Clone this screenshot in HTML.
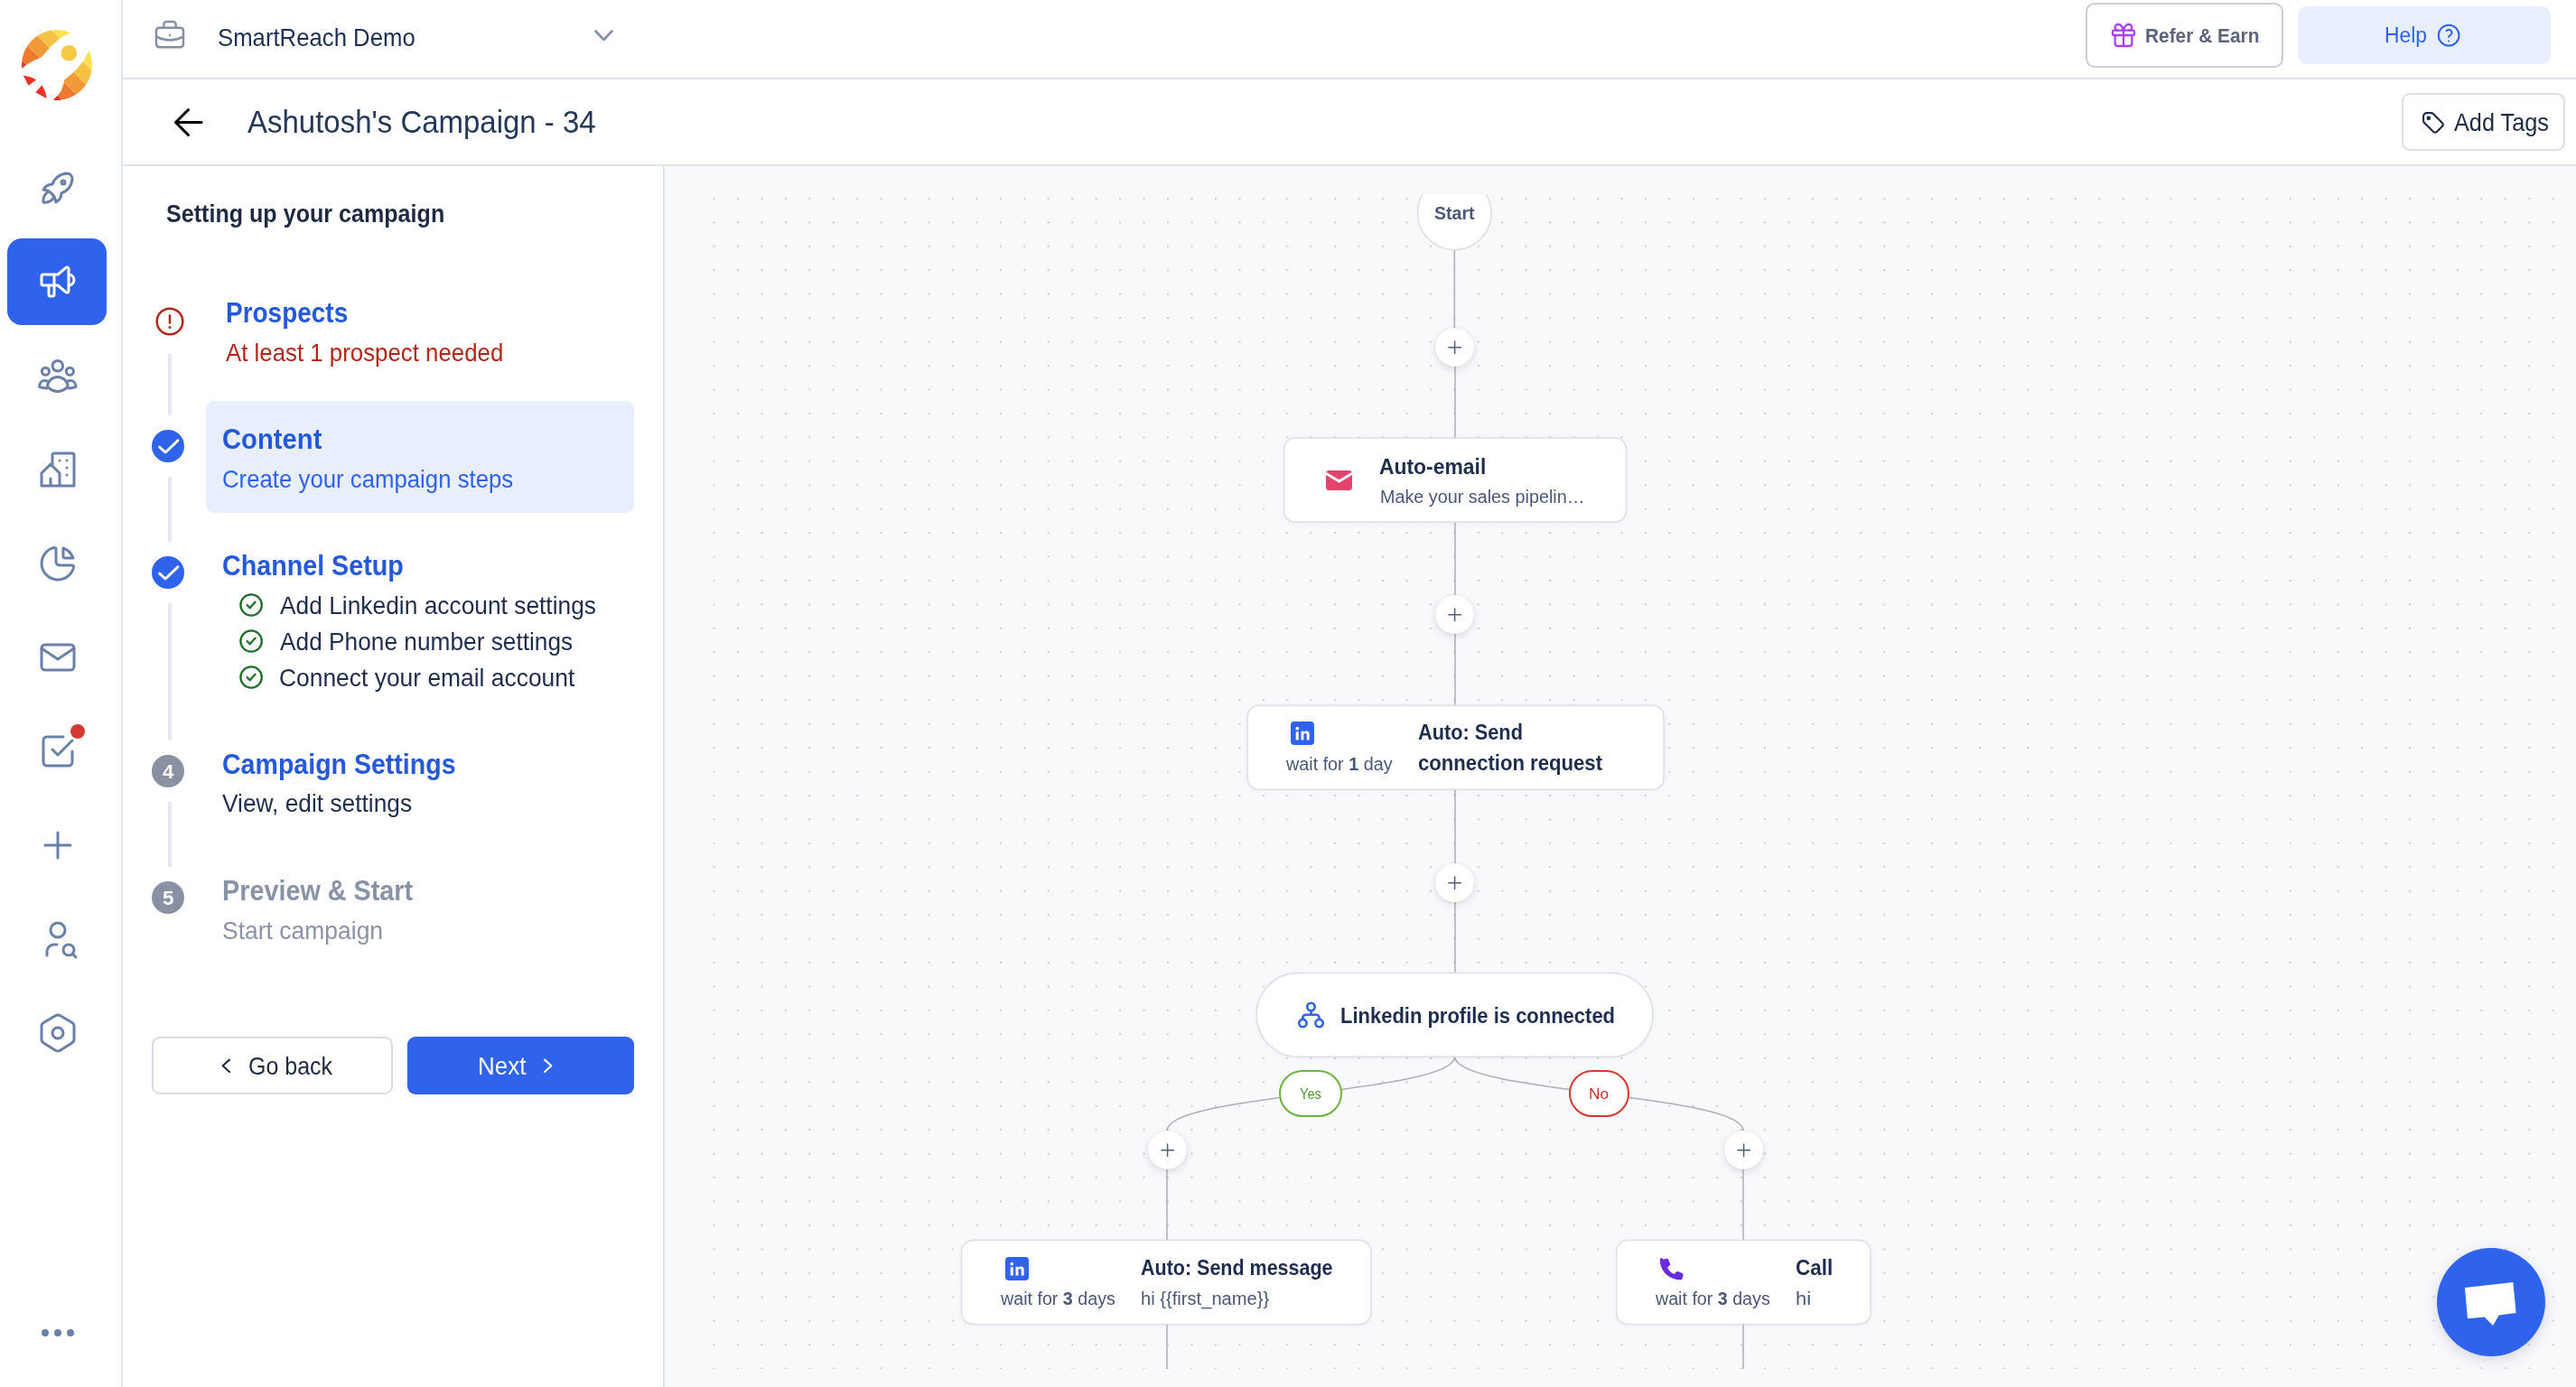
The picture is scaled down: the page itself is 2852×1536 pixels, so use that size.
<!DOCTYPE html>
<html><head><meta charset="utf-8"><title>SmartReach Campaign</title>
<style>
*{box-sizing:border-box;margin:0;padding:0}
html,body{width:2852px;height:1536px;overflow:hidden;background:#fff;font-family:"Liberation Sans",sans-serif}
.abs{position:absolute}
.t{position:absolute;white-space:nowrap;line-height:1;transform-origin:0 0;font-family:"Liberation Sans",sans-serif}
.t b{font-weight:700}
svg{position:absolute;overflow:visible}
.ic{fill:none;stroke:#6b80a8;stroke-width:1.5;stroke-linecap:round;stroke-linejoin:round}
.vline{position:absolute;left:186px;width:4px;background:#e7e8ee}
.node{position:absolute;background:#fff;border:2px solid #e0e2ea;border-radius:14px;box-shadow:0 1px 3px rgba(30,40,80,.05)}
.plus{position:absolute;width:43px;height:43px;border-radius:50%;background:#fff;box-shadow:0 3px 8px rgba(40,50,90,.14),0 0 2px rgba(40,50,90,.10)}
.plus svg{left:0;top:0}
.edge{position:absolute;width:2px;background:#b4b6be}
</style></head>
<body>
<!-- ===== canvas background ===== -->
<div class="abs" style="left:736px;top:184px;width:2116px;height:1352px;background:#f8f9fb"></div>
<!-- flow viewport (clipped) -->
<div class="abs" id="flow" style="left:769px;top:216px;width:2083px;height:1300px;overflow:hidden">
 <div class="abs" id="flowin" style="left:-769px;top:-216px;width:2852px;height:1536px">
  <svg width="2852" height="1536" style="left:0;top:0">
   <defs><pattern id="dots" x="789.6" y="218.9" width="26.443" height="26.443" patternUnits="userSpaceOnUse"><rect x="0" y="0" width="2" height="2" fill="#c9cbd6"/></pattern></defs>
   <rect x="769" y="216" width="2083" height="1300" fill="url(#dots)"/>
   <g fill="none" stroke="#adaeb5" stroke-width="1.500">
    <path d="M1610.300 270V370M1611 400V490M1611 570V790M1611 870V1080"/>
    <path d="M1610.700 1170C1610.700 1211 1292 1211 1292 1252V1380M1292 1460V1520"/>
    <path d="M1610.7 1170C1610.7 1211 1930 1211 1930 1252V1380M1930 1460V1520"/>
   </g>
  </svg>
  <!-- start -->
  <svg style="left:0;top:0" width="2852" height="400"><circle cx="1610.300" cy="235.900" r="40.800" fill="#fff" stroke="#dcdee6" stroke-width="1.500"/></svg>
  <div class="plus" style="left:1589px;top:363px"><svg width="43" height="43" viewBox="0 0 43 43" fill="none" stroke="#4f5d7c" stroke-width="1.500" stroke-linecap="round"><path d="M14.900 21.700H28.300M21.600 15V28.400"/></svg></div>
  <div class="plus" style="left:1589px;top:659px"><svg width="43" height="43" viewBox="0 0 43 43" fill="none" stroke="#4f5d7c" stroke-width="1.500" stroke-linecap="round"><path d="M14.900 21.700H28.300M21.600 15V28.400"/></svg></div>
  <div class="plus" style="left:1589px;top:955.5px"><svg width="43" height="43" viewBox="0 0 43 43" fill="none" stroke="#4f5d7c" stroke-width="1.500" stroke-linecap="round"><path d="M14.900 21.700H28.300M21.600 15V28.400"/></svg></div>
  <div class="plus" style="left:1270.5px;top:1251.5px"><svg width="43" height="43" viewBox="0 0 43 43" fill="none" stroke="#4f5d7c" stroke-width="1.500" stroke-linecap="round"><path d="M14.900 21.700H28.300M21.600 15V28.400"/></svg></div>
  <div class="plus" style="left:1908.5px;top:1251.5px"><svg width="43" height="43" viewBox="0 0 43 43" fill="none" stroke="#4f5d7c" stroke-width="1.500" stroke-linecap="round"><path d="M14.900 21.700H28.300M21.600 15V28.400"/></svg></div>
  <!-- nodes -->
  <svg style="left:0;top:0;filter:drop-shadow(0 1px 2px rgba(30,40,80,.05))" width="2852" height="1536" fill="#fff" stroke="#dddfe7" stroke-width="1.500"><rect x="1421.6" y="485.1" width="378.8" height="92.9" rx="12.5"/><rect x="1381.3" y="781.3" width="460.9" height="92.9" rx="12.5"/><rect x="1391.2" y="1077.4" width="438.7" height="92.9" rx="46.45"/><rect x="1064.6" y="1373.6" width="453.3" height="92.9" rx="12.5"/><rect x="1789.6" y="1373.6" width="281.3" height="92.9" rx="12.5"/></svg>
  <!-- pills -->
  <div class="abs" style="left:1416px;top:1184.5px;width:70px;height:52.5px;border-radius:27px;background:#fff;border:2.5px solid #6db33f"></div>
  <div class="abs" style="left:1737px;top:1184.5px;width:67px;height:52.5px;border-radius:27px;background:#fff;border:2.5px solid #d23a31"></div>
  <!-- envelope -->
  <svg style="left:1468px;top:520.5px" width="29" height="22" viewBox="0 0 29 22"><rect width="29" height="22" rx="3.5" fill="#e0446c"/><path d="M0 3.2L14.5 12L29 3.2" fill="none" stroke="#fff" stroke-width="3"/></svg>
  <!-- linkedin icons -->
  <svg style="left:1429px;top:799px" width="26" height="26" viewBox="0 0 26 26"><rect width="26" height="26" rx="4" fill="#2f63ec"/><g fill="#fff"><rect x="5.700" y="11.300" width="3.100" height="9.200"/><circle cx="7.250" cy="7.700" r="1.850"/><path d="M11.500 10.700h2.900v1.300c.7-1 1.700-1.600 3-1.600 2.400 0 3.300 1.500 3.300 3.900v6.200h-3v-5.500c0-1.200-.4-2-1.500-2-1.200 0-1.800.8-1.800 2.100v5.400h-2.900z"/></g></svg>
  <svg style="left:1112.800px;top:1391.800px" width="26" height="26" viewBox="0 0 26 26"><rect width="26" height="26" rx="4" fill="#2f63ec"/><g fill="#fff"><rect x="5.700" y="11.300" width="3.100" height="9.200"/><circle cx="7.250" cy="7.700" r="1.850"/><path d="M11.500 10.700h2.900v1.300c.7-1 1.700-1.600 3-1.600 2.400 0 3.300 1.500 3.300 3.900v6.200h-3v-5.500c0-1.200-.4-2-1.500-2-1.200 0-1.800.8-1.800 2.100v5.400h-2.900z"/></g></svg>
  <!-- hierarchy -->
  <svg style="left:0;top:0" width="2852" height="1536" fill="none" stroke="#2f63ec" stroke-width="2.600" stroke-linecap="round" stroke-linejoin="round"><circle cx="1451.500" cy="1115" r="4.200"/><circle cx="1442.400" cy="1133.100" r="4.200"/><circle cx="1460.600" cy="1133.100" r="4.200"/><path d="M1451.500 1119.300V1123.700M1442.400 1128.800v-1.600a3.500 3.500 0 0 1 3.500 -3.500h11.200a3.500 3.500 0 0 1 3.500 3.500v1.600"/></svg>
  <!-- phone -->
  <svg style="left:1831px;top:1388px" width="34" height="34" viewBox="0 0 24 24"><path fill="#6a2be0" d="M6.6 2.5l2.2-.6c.6-.2 1.2.1 1.5.7l1.4 3.3c.2.5.1 1.1-.4 1.5L9.600 8.800c1 2.300 2.900 4.200 5.400 5.300l1.400-1.700c.4-.4 1-.6 1.500-.4l3.300 1.400c.6.300.9.900.7 1.500l-.6 2.400c-.2.700-.8 1.200-1.500 1.200C10.800 18.500 3.800 11.600 3.800 2.800c0-.700.500-1.300 1.200-1.500z" transform="translate(1 2.2)"/></svg>
 </div>
</div>
<!-- chat bubble -->
<div class="abs" style="left:2698px;top:1382px;width:120px;height:120px;border-radius:50%;background:#2f63ec;box-shadow:0 4px 16px rgba(30,40,80,.16)"></div>
<svg style="left:0;top:0" width="2852" height="1536"><path fill="#fff" d="M2728.900 1425.900L2782.400 1419.900L2785.600 1454L2766.600 1456.600L2760.100 1467.900L2750.600 1458.400L2732 1460.300Z"/></svg>

<!-- ===== sidebar ===== -->
<div class="abs" style="left:134px;top:0;width:2px;height:1536px;background:#e3e5ec"></div>
<div class="abs" style="left:136px;top:86px;width:2716px;height:2px;background:#e0e3ea"></div>
<div class="abs" style="left:136px;top:182px;width:2716px;height:2px;background:#e0e3ea"></div>
<div class="abs" style="left:734px;top:184px;width:2px;height:1352px;background:#e0e3ea"></div>
<div class="abs" style="left:8px;top:264px;width:110px;height:96px;border-radius:16px;background:#2f63ec"></div>
<svg style="left:24px;top:33px" width="78" height="78" viewBox="0 0 78 78"><defs><clipPath id="lc"><circle cx="39" cy="39" r="39"/></clipPath></defs><g clip-path="url(#lc)"><polygon fill="#e93323" points="-400,-200 0,200 166.5,200 -233.5,-200"/><polygon fill="#ee7a30" points="-233.5,-200 166.5,200 188.9,200 -211.1,-200"/><polygon fill="#f09a3a" points="-211.1,-200 188.9,200 210.8,200 -189.2,-200"/><polygon fill="#f6c244" points="-189.2,-200 210.8,200 232.6,200 -167.4,-200"/><polygon fill="#fbe34f" points="-167.4,-200 232.6,200 400,200 0,-200"/></g><polygon fill="#fff" points="-4.5,47.0 -0.0,43.2 5.2,38.7 13.5,33.9 21.7,30.6 24.0,27.9 31.5,19.2 42.0,9.5 54.0,3.1 63.0,-1.8 85.5,-7.0 85.5,18.5 74.6,23.7 67.9,35.4 57.7,47.0 47.2,55.6 46.1,61.2 43.5,68.0 39.7,72.9 34.9,77.7 30.0,86.7 -4.5,86.7"/><polygon fill="#e93323" points="1.7,50.4 10.5,52.4 16.1,55.2 7.6,61.7"/><polygon fill="#e93323" points="22.5,61.2 26.2,68.7 27.6,75.9 15.3,69.3"/><g clip-path="url(#lc)"><polygon fill="#e93323" points="34.9,78.1 39.7,72.9 44.2,77.4 40.5,79.2"/></g><circle cx="52.3" cy="25.8" r="8.8" fill="#f7c842"/></svg>
<svg style="left:40px;top:184px" width="48" height="48" viewBox="0 0 24 24" fill="none" stroke="#6b80a8" stroke-width="1.5" stroke-linecap="round" stroke-linejoin="round"><path d="M4 13a8 8 0 0 1 7 7a6 6 0 0 0 3 -5a9 9 0 0 0 6 -8a3 3 0 0 0 -3 -3a9 9 0 0 0 -8 6a6 6 0 0 0 -5 3"/><path d="M7 14a6 6 0 0 0 -3 6a6 6 0 0 0 6 -3"/><circle cx="15" cy="9" r="1"/></svg>
<svg style="left:40px;top:288px" width="48" height="48" viewBox="0 0 24 24" fill="none" stroke="#fff" stroke-width="1.5" stroke-linecap="round" stroke-linejoin="round"><path d="M18 8a3 3 0 0 1 0 6"/><path d="M10 8v11a1 1 0 0 1 -1 1h-1a1 1 0 0 1 -1 -1v-5"/><path d="M12 8h0l4.524 -3.770a.9 .9 0 0 1 1.476 .692v12.156a.9 .9 0 0 1 -1.476 .692l-4.524 -3.770h-8a1 1 0 0 1 -1 -1v-4a1 1 0 0 1 1 -1h8"/></svg>
<svg style="left:40px;top:392px" width="48" height="48" viewBox="0 0 24 24" fill="none" stroke="#6b80a8" stroke-width="1.5" stroke-linecap="round" stroke-linejoin="round"><path d="M7 15.3C6.100 14.950 5.300 14.800 4.460 14.800C2.900 14.800 1.900 16.300 1.800 18.200C3.200 18.800 4.600 19 5.900 19.050"/><path d="M16.820 15.3C17.720 14.950 18.520 14.800 19.360 14.800C20.920 14.800 21.920 16.300 22.020 18.200C20.620 18.800 19.220 19 17.920 19.050"/><path fill="#fff" d="M6.300 18.200A5.610 5.450 0 0 1 17.520 18.200Q11.910 23.300 6.300 18.200Z"/><circle cx="11.910" cy="6.620" r="2.900"/><circle cx="5.220" cy="9.650" r="2.030"/><circle cx="18.700" cy="9.650" r="2.030"/></svg>
<svg style="left:40px;top:496px" width="48" height="48" viewBox="0 0 24 24" fill="none" stroke="#6b80a8" stroke-width="1.5" stroke-linecap="round" stroke-linejoin="round"><path d="M8 9l5 5v7h-5v-4m0 4h-5v-7l5 -5m1 1v-6a1 1 0 0 1 1 -1h10a1 1 0 0 1 1 1v17h-8"/><path d="M13 7l0 .01"/><path d="M17 7l0 .01"/><path d="M17 11l0 .01"/><path d="M17 15l0 .01"/></svg>
<svg style="left:40px;top:600px" width="48" height="48" viewBox="0 0 24 24" fill="none" stroke="#6b80a8" stroke-width="1.5" stroke-linecap="round" stroke-linejoin="round"><path d="M10 3.200a9 9 0 1 0 10.800 10.800a1 1 0 0 0 -1 -1h-6.800a2 2 0 0 1 -2 -2v-7a.9 .9 0 0 0 -1 -.8"/><path d="M15 3.500a9 9 0 0 1 5.500 5.500h-4.500a1 1 0 0 1 -1 -1v-4.500"/></svg>
<svg style="left:40px;top:704px" width="48" height="48" viewBox="0 0 24 24" fill="none" stroke="#6b80a8" stroke-width="1.5" stroke-linecap="round" stroke-linejoin="round"><path d="M3 7a2 2 0 0 1 2 -2h14a2 2 0 0 1 2 2v10a2 2 0 0 1 -2 2h-14a2 2 0 0 1 -2 -2v-10z"/><path d="M3 7l9 6l9 -6"/></svg>
<svg style="left:40px;top:808px" width="48" height="48" viewBox="0 0 24 24" fill="none" stroke="#6b80a8" stroke-width="1.5" stroke-linecap="round" stroke-linejoin="round"><path d="M9 11l3 3l8 -8"/><path d="M20 12v6a2 2 0 0 1 -2 2h-12a2 2 0 0 1 -2 -2v-12a2 2 0 0 1 2 -2h9"/></svg>
<svg style="left:40px;top:912px" width="48" height="48" viewBox="0 0 24 24" fill="none" stroke="#6b80a8" stroke-width="1.5" stroke-linecap="round" stroke-linejoin="round"><path d="M12 5l0 14"/><path d="M5 12l14 0"/></svg>
<svg style="left:40px;top:1016px" width="48" height="48" viewBox="0 0 24 24" fill="none" stroke="#6b80a8" stroke-width="1.5" stroke-linecap="round" stroke-linejoin="round"><path d="M8 7a4 4 0 1 0 8 0a4 4 0 0 0 -8 0"/><path d="M6 21v-2a4 4 0 0 1 4 -4h1.500"/><circle cx="18" cy="18" r="3"/><path d="M20.200 20.200l1.800 1.800"/></svg>
<svg style="left:40px;top:1120px" width="48" height="48" viewBox="0 0 24 24" fill="none" stroke="#6b80a8" stroke-width="1.5" stroke-linecap="round" stroke-linejoin="round"><path d="M19.875 6.270a2.225 2.225 0 0 1 1.125 1.948v7.284c0 .809 -.443 1.555 -1.158 1.948l-6.750 4.270a2.269 2.269 0 0 1 -2.184 0l-6.750 -4.270a2.225 2.225 0 0 1 -1.158 -1.948v-7.285c0 -.809 .443 -1.554 1.158 -1.947l6.750 -3.980a2.330 2.330 0 0 1 2.250 0l6.750 3.980h-.033z"/><circle cx="12" cy="12" r="3"/></svg>
<svg style="left:40px;top:1452px" width="48" height="48" viewBox="0 0 24 24" fill="none" stroke="#6b80a8" stroke-width="2" stroke-linecap="round" stroke-linejoin="round"><circle cx="5" cy="12" r="1"/><circle cx="12" cy="12" r="1"/><circle cx="19" cy="12" r="1"/></svg>
<div class="abs" style="left:77.500px;top:801.500px;width:16.500px;height:16.500px;border-radius:50%;background:#d23a31"></div>
<svg style="left:168px;top:18.7px" width="40" height="40" viewBox="0 0 24 24" fill="none" stroke="#8790a3" stroke-width="1.5" stroke-linecap="round" stroke-linejoin="round"><path d="M3 9a2 2 0 0 1 2 -2h14a2 2 0 0 1 2 2v9a2 2 0 0 1 -2 2h-14a2 2 0 0 1 -2 -2z"/><path d="M8 7v-2a2 2 0 0 1 2 -2h4a2 2 0 0 1 2 2v2"/><path d="M12 12l0 .01"/><path d="M3 13a20 20 0 0 0 18 0"/></svg>
<!-- ===== top bar ===== -->
<div class="abs" style="left:2309px;top:3px;width:219px;height:72px;border:2px solid #c9ccd4;border-radius:10px;background:#fff"></div>
<div class="abs" style="left:2544px;top:7px;width:280px;height:64px;border-radius:10px;background:#e8eefc"></div>
<div class="abs" style="left:2659px;top:103px;width:181px;height:64px;border:2px solid #dcdfe6;border-radius:9px;background:#fff"></div>
<!-- ===== steps panel ===== -->
<div class="abs" style="left:228px;top:444px;width:474px;height:124px;border-radius:9px;background:#e8eefc"></div>
<div class="vline" style="top:392px;height:68px"></div>
<div class="vline" style="top:528px;height:72px"></div>
<div class="vline" style="top:668px;height:152px"></div>
<div class="vline" style="top:888px;height:72px"></div>
<div class="abs" style="left:168px;top:476px;width:36px;height:36px;border-radius:50%;background:#2f63ec"></div>
<div class="abs" style="left:168px;top:616px;width:36px;height:36px;border-radius:50%;background:#2f63ec"></div>
<div class="abs" style="left:168px;top:836px;width:36px;height:36px;border-radius:50%;background:#8a91a2"></div>
<div class="abs" style="left:168px;top:976px;width:36px;height:36px;border-radius:50%;background:#8a91a2"></div>
<div class="abs" style="left:168px;top:1148px;width:267px;height:64px;border:2px solid #d8dbe3;border-radius:9px;background:#fff"></div>
<div class="abs" style="left:451px;top:1148px;width:251px;height:64px;border-radius:9px;background:#2f63ec"></div>
<svg style="left:0;top:0" width="2852" height="200" fill="none" stroke="#000" stroke-width="3" stroke-linecap="round" stroke-linejoin="round"><path d="M223 135.500H194.500M208.500 121.500L194.500 135.500L208.500 149.500"/></svg>
<svg style="left:0;top:0" width="2852" height="200" fill="none" stroke="#8790a3" stroke-width="2.600" stroke-linecap="round" stroke-linejoin="round"><path d="M659.500 34.500L668.500 44L677.500 34.500"/></svg>
<svg style="left:170px;top:338px" width="36" height="36" viewBox="0 0 36 36" fill="none" stroke="#b3261a" stroke-width="2.500" stroke-linecap="round"><circle cx="18" cy="18" r="14.300"/><path d="M18 11.500v8"/><path d="M18 24.500v.1" stroke-width="3"/></svg>
<svg style="left:168px;top:476px" width="36" height="36" viewBox="0 0 36 36" fill="none" stroke="#fff" stroke-width="3" stroke-linecap="round" stroke-linejoin="round"><path d="M8.700 19.200L15.100 25L28.900 11.800"/></svg>
<svg style="left:168px;top:616px" width="36" height="36" viewBox="0 0 36 36" fill="none" stroke="#fff" stroke-width="3" stroke-linecap="round" stroke-linejoin="round"><path d="M8.700 19.200L15.100 25L28.900 11.800"/></svg>
<svg style="left:263px;top:655px" width="30" height="30" viewBox="0 0 30 30" fill="none" stroke="#226e2b" stroke-width="2.3" stroke-linecap="round" stroke-linejoin="round"><circle cx="15.1" cy="15" r="11.700"/><path d="M10.5 15l3.200 3.300l5.800 -6.500"/></svg>
<svg style="left:263px;top:695px" width="30" height="30" viewBox="0 0 30 30" fill="none" stroke="#226e2b" stroke-width="2.3" stroke-linecap="round" stroke-linejoin="round"><circle cx="15.1" cy="15" r="11.700"/><path d="M10.5 15l3.200 3.300l5.800 -6.500"/></svg>
<svg style="left:263px;top:735px" width="30" height="30" viewBox="0 0 30 30" fill="none" stroke="#226e2b" stroke-width="2.3" stroke-linecap="round" stroke-linejoin="round"><circle cx="15.1" cy="15" r="11.700"/><path d="M10.5 15l3.200 3.300l5.800 -6.500"/></svg>
<svg style="left:0;top:1100px" width="800" height="200" fill="none" stroke-width="2.100" stroke-linecap="round" stroke-linejoin="round"><path stroke="#1f2a40" d="M254 73.600L246.600 80.300L254 87"/><path stroke="#fff" d="M603 73.600L610.400 80.300L603 87"/></svg>
<svg style="left:2335px;top:22.500px" width="32" height="32" viewBox="0 0 24 24" fill="none" stroke="#a83ff0" stroke-width="1.700" stroke-linecap="round" stroke-linejoin="round"><rect x="3" y="8" width="18" height="4" rx="1"/><path d="M12 8v13"/><path d="M19 12v7a2 2 0 0 1 -2 2h-10a2 2 0 0 1 -2 -2v-7"/><path d="M7.500 8a2.500 2.500 0 0 1 0 -5a4.800 8 0 0 1 4.500 5a4.800 8 0 0 1 4.500 -5a2.500 2.500 0 0 1 0 5"/></svg>
<svg style="left:2696.400px;top:23.800px" width="30.300" height="30.300" viewBox="0 0 24 24" fill="none" stroke="#2f63ec" stroke-width="1.600" stroke-linecap="round" stroke-linejoin="round"><circle cx="12" cy="12" r="9"/><path d="M12 17v.01"/><path d="M12 13.500a1.500 1.500 0 0 1 1 -1.500a2.600 2.600 0 1 0 -3 -4"/></svg>
<svg style="left:2678.200px;top:120px" width="30.600" height="30.600" viewBox="0 0 24 24" fill="none" stroke="#1f2a44" stroke-width="1.700" stroke-linecap="round" stroke-linejoin="round"><circle cx="8.500" cy="8.500" r="1" fill="#1f2a44"/><path d="M4 7v3.859c0 .537 .213 1.052 .593 1.432l8.116 8.116a2.025 2.025 0 0 0 2.864 0l4.834 -4.834a2.025 2.025 0 0 0 0 -2.864l-8.117 -8.116a2.025 2.025 0 0 0 -1.431 -.593h-3.859a3 3 0 0 0 -3 3z"/></svg>
<div class="t" style="left:241.19px;top:27.07px;font-size:28.5px;font-weight:400;color:#1e2f55;transform:scaleX(0.9026)">SmartReach Demo</div>
<div class="t" style="left:274.24px;top:118.10px;font-size:34.5px;font-weight:400;color:#253858;transform:scaleX(0.9557)">Ashutosh's Campaign - 34</div>
<div class="t" style="left:2374.59px;top:28.15px;font-size:22.98px;font-weight:700;color:#5b6478;transform:scaleX(0.9085)">Refer &amp; Earn</div>
<div class="t" style="left:2639.96px;top:28.26px;font-size:23.13px;font-weight:400;color:#2f63ec;transform:scaleX(0.9874)">Help</div>
<div class="t" style="left:2717.48px;top:122.95px;font-size:26.76px;font-weight:400;color:#1f2a44;transform:scaleX(0.9457)">Add Tags</div>
<div class="t" style="left:184.18px;top:223.50px;font-size:27.05px;font-weight:700;color:#1f2a40;transform:scaleX(0.9281)">Setting up your campaign</div>
<div class="t" style="left:250.21px;top:331.04px;font-size:30.55px;font-weight:700;color:#2459d9;transform:scaleX(0.9152)">Prospects</div>
<div class="t" style="left:250.10px;top:376.88px;font-size:27.2px;font-weight:400;color:#b3261a;transform:scaleX(0.9500)">At least 1 prospect needed</div>
<div class="t" style="left:246.31px;top:470.64px;font-size:30.55px;font-weight:700;color:#2459d9;transform:scaleX(0.9568)">Content</div>
<div class="t" style="left:246.23px;top:516.78px;font-size:27.2px;font-weight:400;color:#2f63ec;transform:scaleX(0.9477)">Create your campaign steps</div>
<div class="t" style="left:246.40px;top:611.04px;font-size:30.55px;font-weight:700;color:#2459d9;transform:scaleX(0.9390)">Channel Setup</div>
<div class="t" style="left:310.06px;top:656.88px;font-size:27.2px;font-weight:400;color:#1f2d4d;transform:scaleX(0.9689)">Add Linkedin account settings</div>
<div class="t" style="left:309.81px;top:696.88px;font-size:27.2px;font-weight:400;color:#1f2d4d;transform:scaleX(0.9663)">Add Phone number settings</div>
<div class="t" style="left:308.98px;top:736.78px;font-size:27.2px;font-weight:400;color:#1f2d4d;transform:scaleX(0.9712)">Connect your email account</div>
<div class="t" style="left:246.34px;top:830.94px;font-size:30.55px;font-weight:700;color:#2459d9;transform:scaleX(0.9346)">Campaign Settings</div>
<div class="t" style="left:245.63px;top:876.48px;font-size:27.2px;font-weight:400;color:#1f2d4d;transform:scaleX(0.9678)">View, edit settings</div>
<div class="t" style="left:246.16px;top:971.24px;font-size:30.55px;font-weight:700;color:#8a93a6;transform:scaleX(0.9420)">Preview &amp; Start</div>
<div class="t" style="left:245.93px;top:1017.08px;font-size:27.2px;font-weight:400;color:#8a93a6;transform:scaleX(0.9739)">Start campaign</div>
<div class="t" style="left:274.75px;top:1166.78px;font-size:27.2px;font-weight:400;color:#1f2a40;transform:scaleX(0.9195)">Go back</div>
<div class="t" style="left:529.03px;top:1166.58px;font-size:27.2px;font-weight:400;color:#ffffff;transform:scaleX(0.9541)">Next</div>
<div class="t" style="left:179.61px;top:845.00px;font-size:21.5px;font-weight:700;color:#ffffff;transform:scaleX(1.0360)">4</div>
<div class="t" style="left:179.84px;top:985.00px;font-size:21.5px;font-weight:700;color:#ffffff;transform:scaleX(1.0465)">5</div>
<div class="t" style="left:1587.52px;top:227.02px;font-size:19.35px;font-weight:700;color:#4a5878;transform:scaleX(1.0128)">Start</div>
<div class="t" style="left:1527.47px;top:505.56px;font-size:23.56px;font-weight:700;color:#1f2d4d;transform:scaleX(0.9718)">Auto-email</div>
<div class="t" style="left:1528.38px;top:539.97px;font-size:20px;font-weight:400;color:#4a5878;transform:scaleX(0.9890)">Make your sales pipelin&hellip;</div>
<div class="t" style="left:1424.42px;top:835.69px;font-size:20px;font-weight:400;color:#4a5878;transform:scaleX(0.9879)">wait for <b>1</b> day</div>
<div class="t" style="left:1569.54px;top:800.06px;font-size:23.56px;font-weight:700;color:#1f2d4d;transform:scaleX(0.9233)">Auto: Send</div>
<div class="t" style="left:1570.10px;top:834.16px;font-size:23.56px;font-weight:700;color:#1f2d4d;transform:scaleX(0.9394)">connection request</div>
<div class="t" style="left:1483.89px;top:1113.86px;font-size:23.56px;font-weight:700;color:#1f2d4d;transform:scaleX(0.9332)">Linkedin profile is connected</div>
<div class="t" style="left:1438.82px;top:1204.19px;font-size:16.87px;font-weight:400;color:#4f9a2a;transform:scaleX(0.8689)">Yes</div>
<div class="t" style="left:1759.47px;top:1204.19px;font-size:16.87px;font-weight:400;color:#c9302c;transform:scaleX(1.0166)">No</div>
<div class="t" style="left:1108.14px;top:1427.87px;font-size:20px;font-weight:400;color:#4a5878;transform:scaleX(0.9833)">wait for <b>3</b> days</div>
<div class="t" style="left:1262.70px;top:1392.56px;font-size:23.56px;font-weight:700;color:#1f2d4d;transform:scaleX(0.9125)">Auto: Send message</div>
<div class="t" style="left:1262.59px;top:1427.87px;font-size:20px;font-weight:400;color:#4a5878;transform:scaleX(1.0072)">hi {{first_name}}</div>
<div class="t" style="left:1833.26px;top:1427.87px;font-size:20px;font-weight:400;color:#4a5878;transform:scaleX(0.9825)">wait for <b>3</b> days</div>
<div class="t" style="left:1988.35px;top:1392.56px;font-size:23.56px;font-weight:700;color:#1f2d4d;transform:scaleX(0.9519)">Call</div>
<div class="t" style="left:1987.98px;top:1427.91px;font-size:20px;font-weight:400;color:#4a5878;transform:scaleX(1.0917)">hi</div>
</body></html>
